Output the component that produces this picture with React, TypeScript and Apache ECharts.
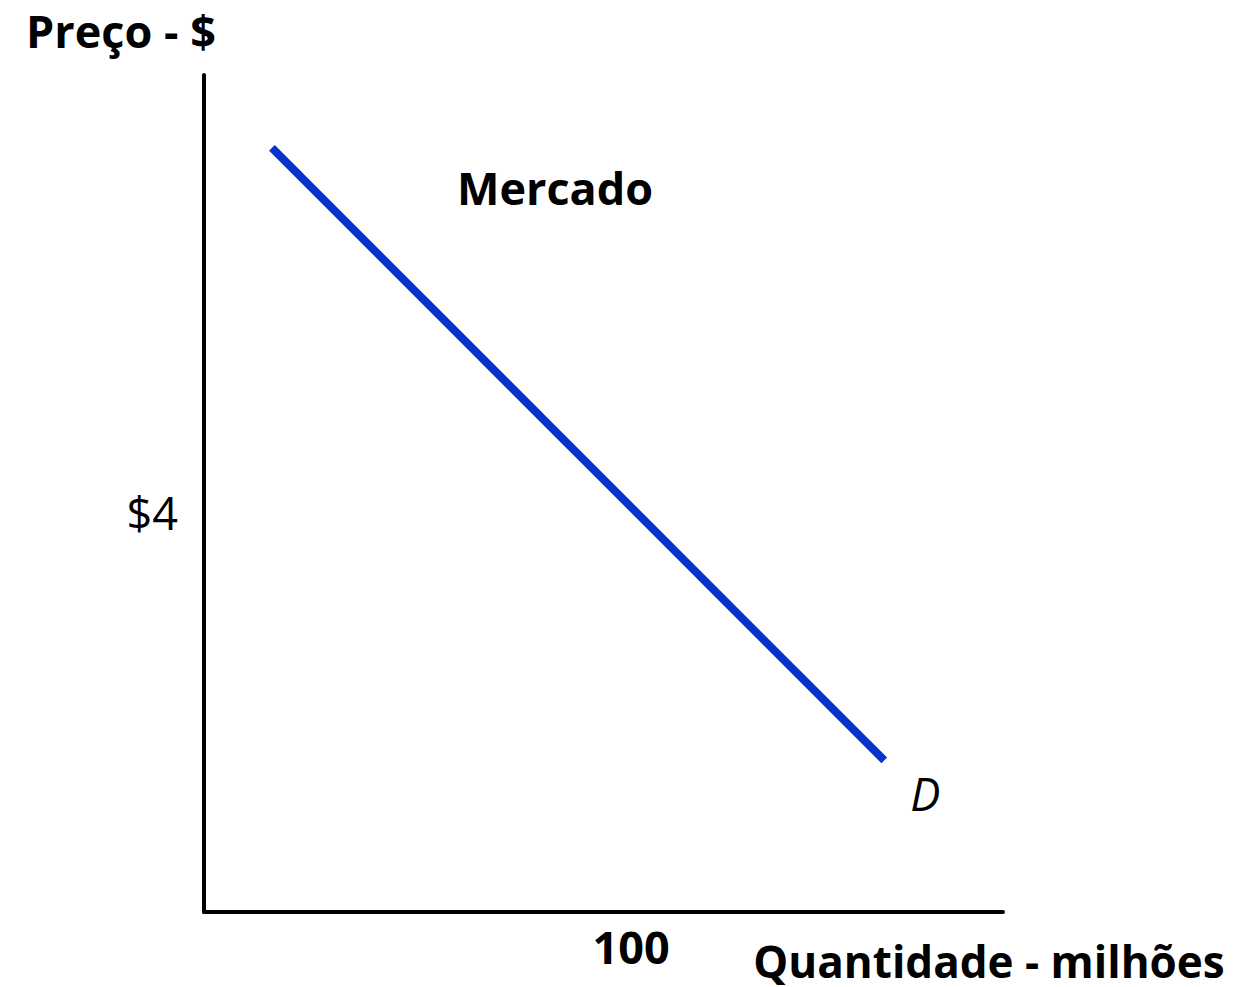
import React, { useEffect, useRef } from "react";
import * as echarts from "echarts";

const quantity = [15.9, 159.3];
const price = [7.66, 1.52];
const xTicks = [100];
const yTicks = [4];
const xMax = 187.1;
const yMax = 8.39;

const FONT = "'Open Sans', sans-serif";
const FS = 45;

export default function App() {
  const ref = useRef<HTMLDivElement>(null);
  useEffect(() => {
    document.body.style.margin = "0";
    const chart = echarts.init(ref.current!, null, { renderer: "svg" });
    chart.setOption({
      animation: false,
      backgroundColor: "#ffffff",
      grid: { left: 204, top: 75, right: 238, bottom: 75, containLabel: false },
      xAxis: {
        type: "value",
        min: 0,
        max: xMax,
        axisLine: { show: true, lineStyle: { color: "#000", width: 4 } },
        axisTick: { show: false },
        splitLine: { show: false },
        axisLabel: {
          customValues: xTicks,
          margin: 12,
          color: "#000",
          fontFamily: FONT,
          fontWeight: "bold",
          fontSize: FS,
          lineHeight: FS,
          formatter: (v: number) => String(v),
        },
      },
      yAxis: {
        type: "value",
        min: 0,
        max: yMax,
        axisLine: { show: true, lineStyle: { color: "#000", width: 4 } },
        axisTick: { show: false },
        splitLine: { show: false },
        axisLabel: {
          customValues: yTicks,
          margin: 26,
          color: "#000",
          fontFamily: FONT,
          fontSize: FS,
          formatter: (v: number) => "$" + v,
        },
      },
      series: [
        {
          type: "line",
          data: quantity.map((q, i) => [q, price[i]]),
          symbol: "none",
          lineStyle: { color: "#0533cc", width: 8, cap: "butt" },
          endLabel: {
            show: true,
            formatter: "D",
            fontFamily: FONT,
            fontStyle: "italic",
            fontSize: FS,
            lineHeight: FS,
            color: "#000",
            offset: [18, 33],
          },
        },
      ],
      graphic: [
        {
          type: "text",
          x: 121,
          y: 30,
          style: {
            text: "Preço - $",
            fontFamily: FONT,
            fontWeight: "bold",
            fontSize: FS,
            lineHeight: FS,
            fill: "#000",
            textAlign: "center",
            textVerticalAlign: "middle",
          },
        },
        {
          type: "text",
          x: 555,
          y: 187,
          style: {
            text: "Mercado",
            fontFamily: FONT,
            fontWeight: "bold",
            fontSize: FS,
            lineHeight: FS,
            fill: "#000",
            textAlign: "center",
            textVerticalAlign: "middle",
          },
        },
        {
          type: "text",
          x: 989,
          y: 961,
          style: {
            text: "Quantidade - milhões",
            fontFamily: FONT,
            fontWeight: "bold",
            fontSize: 44,
            lineHeight: 44,
            fill: "#000",
            textAlign: "center",
            textVerticalAlign: "middle",
          },
        },
      ],
    });
    return () => chart.dispose();
  }, []);
  return <div ref={ref} style={{ width: 1241, height: 987 }} />;
}
